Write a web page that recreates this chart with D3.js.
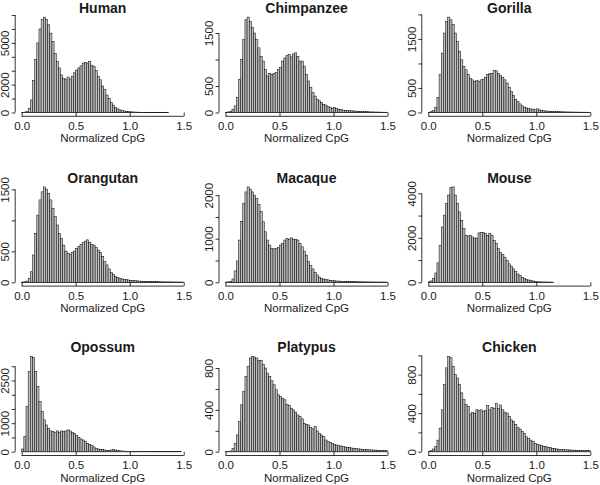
<!DOCTYPE html>
<html><head><meta charset="utf-8">
<script src="https://cdn.jsdelivr.net/npm/d3@7"></script>
<style>
body{margin:0;background:#fff}
svg{display:block}
text{font-family:"Liberation Sans",Arial,Helvetica,sans-serif;fill:#1a1a1a}
</style>
</head><body>
<svg id="c" width="600" height="485"></svg>
<script>
// ---- data (bin counts, bins of width 0.02 starting at 0.00) ----
const species = ["Human","Chimpanzee","Gorilla","Orangutan","Macaque","Mouse","Opossum","Platypus","Chicken"];
const binWidth = 0.02;
const human = [10,30,80,300,900,2300,3800,5000,6000,6700,6850,6700,6300,5700,5100,4250,3650,3200,2700,2450,2400,2550,2400,2600,2850,3050,3200,3350,3550,3600,3550,3650,3400,3300,3000,2600,2350,1900,1650,1250,1000,700,530,360,260,190,140,110,90,70,50,40,30,25,20,16,13,10,8,7,6,5,4,3,3,2,2,1];
const chimpanzee = [5,10,25,60,125,280,625,1000,1375,1750,1800,1720,1610,1500,1375,1220,1060,970,810,690,740,720,740,760,810,845,970,1030,1075,1095,1050,1105,1125,1060,970,970,875,720,595,470,375,310,250,220,190,155,140,110,95,80,90,75,60,55,45,40,35,35,30,30,25,20,20,18,15,15,12,10,10,8,8,6,6,5,5];
const gorilla = [3,15,35,110,310,770,1210,1620,1860,1945,1890,1790,1620,1450,1245,1075,940,870,770,700,665,630,650,630,665,680,720,770,790,800,860,850,800,750,720,665,600,515,430,345,270,220,175,135,110,95,80,70,70,55,75,55,40,35,30,28,25,22,20,18,16,14,13,12,11,10,9,8,8,7,7,6,6,5,5];
const orangutan = [3,8,20,65,170,440,790,1085,1330,1460,1540,1505,1435,1330,1195,1060,925,790,710,600,505,470,450,485,505,550,575,610,645,665,685,645,610,600,560,520,485,415,335,280,215,160,130,95,75,65,55,48,43,38,30,28,25,22,20,18,16,15,14,12,11,10,9,8,7,6,5,5,4,4,3,3,2,2,2];
const macaque = [3,6,15,75,260,490,970,1400,1810,2075,2190,2140,2075,2000,1925,1785,1620,1390,1160,970,855,780,765,780,795,855,890,970,1010,990,1020,990,990,970,890,815,715,625,475,380,305,230,170,120,90,75,70,55,45,45,35,30,28,25,22,20,18,16,15,13,12,11,10,9,8,7,6,5,5,4,4,3,3,2,2];
const mouse = [20,60,180,420,875,1660,2490,3020,3550,3925,4255,4290,3925,3550,3170,2790,2415,2110,2080,2110,2040,1990,1990,2220,2235,2235,2190,2110,2190,2110,1885,1735,1510,1330,1240,1130,980,830,725,605,485,375,300,225,180,135,105,75,60,30,20,15,12,10,8,6,4,3];
const opossum = [95,530,1590,2820,3350,3300,2820,2290,1765,1410,1120,940,825,730,705,680,730,680,730,705,730,765,730,680,645,565,495,445,410,355,295,260,210,165,120,95,80,70,60,50,50,60,70,60,35,30,25,20,18,15,12,10,9,8,7,6,5,5,4,4,3,3,3,2,2,2,2,1,1,1,1,1,1,1];
const platypus = [1,2,6,32,80,160,288,448,576,720,816,896,912,906,896,870,874,832,800,752,720,678,640,592,544,528,512,496,454,442,416,400,378,352,336,314,272,262,256,230,218,240,198,176,160,144,112,96,90,80,70,64,58,54,48,45,42,38,35,32,29,27,25,23,21,19,18,17,16,15,14,13,13,12,12];
const chicken = [2,10,28,52,120,245,435,695,870,990,975,885,800,765,695,610,540,490,470,390,410,400,435,425,435,420,425,480,435,460,450,500,450,485,435,410,400,365,330,315,280,250,235,210,190,155,140,120,105,85,75,70,62,55,52,45,42,35,32,28,26,24,22,20,19,18,17,16,15,14,13,12,11,10,10];
const counts = [human, chimpanzee, gorilla, orangutan, macaque, mouse, opossum, platypus, chicken];

const yTicks = [
  [0,1000,2000,3000,4000,5000,6000,7000],
  [0,500,1000,1500],
  [0,500,1000,1500,2000],
  [0,500,1000,1500],
  [0,500,1000,1500,2000],
  [0,1000,2000,3000,4000],
  [0,500,1000,1500,2000,2500,3000],
  [0,200,400,600,800],
  [0,200,400,600,800,1000]
];
const yLabels = [
  [0,2000,5000],
  [0,500,1500],
  [0,500,1500],
  [0,500,1500],
  [0,1000,2000],
  [0,2000,4000],
  [0,1000,2500],
  [0,400,800],
  [0,400,800]
];
const xTicks = [0, 0.5, 1.0, 1.5];
const xLabel = "Normalized CpG";

// ---- layout ----
const svg = d3.select("#c");
const colLeft = [15.2, 219, 421.8];
const rowBottom = [116.3, 286.1, 455.5];
const plotW = 175, plotH = 103;
const fs = 11.5;

species.forEach((name, i) => {
  const r = Math.floor(i / 3), c = i % 3;
  const left = colLeft[c], bottom = rowBottom[r];
  const data = counts[i];
  const ymax = d3.max(data);
  const x = d3.scaleLinear().domain([-0.06, 1.56]).range([left, left + plotW]);
  const y = d3.scaleLinear().domain([-0.04 * ymax, 1.04 * ymax]).range([bottom, bottom - plotH]);
  const g = svg.append("g");

  const bins = data.map((v, k) => ({x0: k * binWidth, x1: (k + 1) * binWidth, v}));

  // zero line of the histogram (covers empty bins)
  g.append("line")
    .attr("x1", x(0)).attr("x2", x(data.length * binWidth))
    .attr("y1", y(0)).attr("y2", y(0))
    .attr("stroke", "#000").attr("stroke-width", 0.8);

  g.selectAll("rect.bar").data(bins).join("rect")
    .attr("class", "bar")
    .attr("x", b => x(b.x0))
    .attr("width", b => x(b.x1) - x(b.x0))
    .attr("y", b => y(b.v))
    .attr("height", b => Math.max(0, y(0) - y(b.v)))
    .attr("fill", "#bebebe")
    .attr("stroke", "#000")
    .attr("stroke-width", 0.5);

  // x axis (ticks point up, R-style line from first to last tick)
  const xa = g.append("g").attr("transform", `translate(0,${bottom})`)
    .call(d3.axisBottom(x).tickValues(xTicks).tickFormat(d3.format(".1f"))
      .tickSizeInner(-3.8).tickSizeOuter(0).tickPadding(5.6));
  xa.select(".domain").remove();
  xa.append("line").attr("x1", x(xTicks[0])).attr("x2", x(xTicks[xTicks.length - 1]))
    .attr("stroke", "#000").attr("stroke-width", 0.8);
  xa.selectAll(".tick line").attr("stroke-width", 0.8);
  xa.selectAll("text").style("font-size", fs + "px").attr("fill", "#1a1a1a");

  // y axis
  const ticks = yTicks[i], labs = yLabels[i];
  const ya = g.append("g").attr("transform", `translate(${x(-0.06)},0)`)
    .call(d3.axisLeft(y).tickValues(ticks).tickSizeInner(3.5).tickSizeOuter(0)
      .tickFormat(d => labs.includes(d) ? String(d) : ""));
  ya.select(".domain").remove();
  ya.append("line").attr("y1", y(ticks[0])).attr("y2", y(ticks[ticks.length - 1]))
    .attr("stroke", "#000").attr("stroke-width", 0.8);
  ya.selectAll(".tick line").attr("stroke-width", 0.8);
  ya.selectAll("text")
    .attr("x", 0).attr("y", -5.8).attr("dy", null)
    .attr("text-anchor", "middle")
    .attr("transform", "rotate(-90)")
    .style("font-size", fs + "px").attr("fill", "#1a1a1a");
  ya.attr("font-family", null);
  xa.attr("font-family", null);

  // titles
  g.append("text").attr("x", left + plotW / 2).attr("y", bottom - plotH - 0.5)
    .attr("text-anchor", "middle").style("font-size", "14px").style("font-weight", "bold")
    .text(name);
  g.append("text").attr("x", left + plotW / 2).attr("y", bottom + 26)
    .attr("text-anchor", "middle").style("font-size", fs + "px")
    .text(xLabel);
});
</script>
</body></html>
